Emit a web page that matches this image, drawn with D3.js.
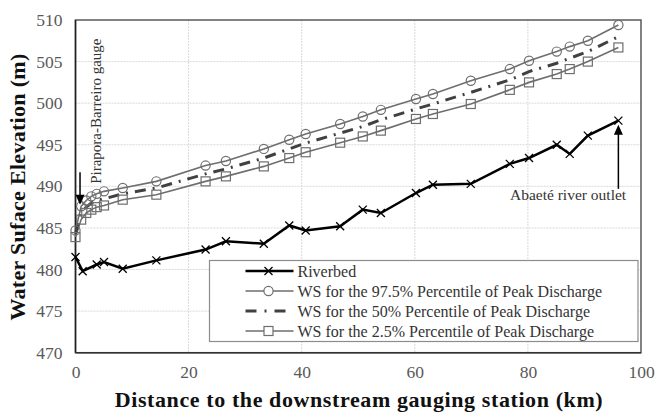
<!DOCTYPE html>
<html>
<head>
<meta charset="utf-8">
<script src="https://cdn.jsdelivr.net/npm/d3@7"></script>
<style>
  body { margin: 0; background: #fff; }
</style>
</head>
<body>
<svg width="657" height="412"></svg>
<script>
// riverbed profile
const bedKm = [0, 1.27, 3.75, 5.04, 8.35, 14.3, 23.0, 26.6, 33.3, 37.8, 40.7, 46.8, 50.8, 54.0, 60.2, 63.2, 69.9, 76.8, 80.2, 85.1, 87.4, 90.6, 96.0];
const bedElev = [481.5, 479.8, 480.6, 480.9, 480.1, 481.1, 482.4, 483.4, 483.1, 485.3, 484.7, 485.2, 487.2, 486.8, 489.2, 490.2, 490.3, 492.7, 493.4, 495.0, 493.9, 496.1, 497.9];

// water surface profiles
const wsKm = [0, 1.0, 1.9, 2.8, 3.75, 5.04, 8.35, 14.3, 23.0, 26.6, 33.3, 37.8, 40.7, 46.8, 50.8, 54.0, 60.2, 63.2, 69.9, 76.8, 80.2, 85.1, 87.4, 90.6, 96.0];
const ws975 = [484.7, 487.6, 488.3, 488.8, 489.1, 489.4, 489.8, 490.6, 492.5, 493.05, 494.5, 495.6, 496.3, 497.5, 498.4, 499.2, 500.5, 501.1, 502.7, 504.1, 505.1, 506.2, 506.8, 507.5, 509.4];
const ws50 = [484.3, 486.8, 487.5, 488.0, 488.3, 488.5, 489.1, 489.8, 491.5, 492.1, 493.4, 494.5, 495.2, 496.4, 497.2, 498.0, 499.3, 499.9, 501.3, 502.8, 503.8, 504.8, 505.4, 506.2, 508.0];
const ws25 = [483.9, 486.0, 486.8, 487.2, 487.5, 487.7, 488.4, 489.0, 490.6, 491.2, 492.4, 493.4, 494.1, 495.25, 496.0, 496.7, 498.1, 498.7, 499.9, 501.6, 502.5, 503.5, 504.1, 505.0, 506.7];

const xTicks = [0, 20, 40, 60, 80, 100];
const yTicks = [470, 475, 480, 485, 490, 495, 500, 505, 510];

const legendLabels = [
  'Riverbed',
  'WS for the 97.5% Percentile of Peak Discharge',
  'WS for the 50% Percentile of Peak Discharge',
  'WS for the 2.5% Percentile of Peak Discharge'
];

const serif = "'Liberation Serif', 'Times New Roman', 'DejaVu Serif', serif";

const svg = d3.select('svg').attr('font-family', serif);
const margin = { top: 20, right: 16, bottom: 59.3, left: 75.5 };
const width = 657, height = 412;
const innerWidth = width - margin.left - margin.right;
const innerHeight = height - margin.top - margin.bottom;

const xScale = d3.scaleLinear().domain([0, 100]).range([0, innerWidth]);
const yScale = d3.scaleLinear().domain([470, 510]).range([innerHeight, 0]);

const g = svg.append('g')
  .attr('transform', `translate(${margin.left},${margin.top})`);

// grid
g.selectAll('.vgrid').data(xTicks.slice(1, -1)).enter().append('line')
  .attr('x1', d => xScale(d)).attr('x2', d => xScale(d))
  .attr('y1', 0).attr('y2', innerHeight)
  .attr('stroke', '#d9d9d9').attr('stroke-dasharray', '2,1');
g.selectAll('.hgrid').data(yTicks.slice(1, -1)).enter().append('line')
  .attr('y1', d => yScale(d)).attr('y2', d => yScale(d))
  .attr('x1', 0).attr('x2', innerWidth)
  .attr('stroke', '#d9d9d9').attr('stroke-dasharray', '2,1');

// axes
const styleTicks = sel => {
  sel.attr('font-family', serif).attr('font-size', 17.5);
  sel.select('.domain').remove();
  sel.selectAll('.tick text').attr('fill', '#595959');
};
g.append('g')
  .call(d3.axisLeft(yScale).tickValues(yTicks).tickSize(0).tickPadding(13))
  .call(styleTicks);
g.append('g').attr('transform', `translate(0,${innerHeight})`)
  .call(d3.axisBottom(xScale).tickValues(xTicks).tickSize(0).tickPadding(13))
  .call(styleTicks);

// plot frame
g.append('rect')
  .attr('width', innerWidth).attr('height', innerHeight)
  .attr('fill', 'none').attr('stroke', '#595959').attr('stroke-width', 1.5);
g.append('line').attr('x1', 0).attr('x2', 0).attr('y1', 0).attr('y2', innerHeight)
  .attr('stroke', '#222').attr('stroke-width', 1.5);
g.append('line').attr('x1', 0).attr('x2', innerWidth).attr('y1', innerHeight).attr('y2', innerHeight)
  .attr('stroke', '#333').attr('stroke-width', 1.5);

const lineGen = (xs) => d3.line()
  .x((d, i) => xScale(xs[i]))
  .y(d => yScale(d));

const grey = '#6e6e6e';

// WS lines
g.append('path').attr('d', lineGen(wsKm)(ws975))
  .attr('fill', 'none').attr('stroke', grey).attr('stroke-width', 1.6);
g.append('path').attr('d', lineGen(wsKm)(ws25))
  .attr('fill', 'none').attr('stroke', grey).attr('stroke-width', 1.6);
g.append('path').attr('d', lineGen(wsKm)(ws50))
  .attr('fill', 'none').attr('stroke', '#404040').attr('stroke-width', 3)
  .attr('stroke-dasharray', '11,7,2,7');

g.selectAll('.c975').data(ws975).enter().append('circle')
  .attr('cx', (d, i) => xScale(wsKm[i])).attr('cy', d => yScale(d))
  .attr('r', 4.6).attr('fill', 'none').attr('stroke', grey).attr('stroke-width', 1.2);
g.selectAll('.s25').data(ws25).enter().append('rect')
  .attr('x', (d, i) => xScale(wsKm[i]) - 4.5).attr('y', d => yScale(d) - 4.5)
  .attr('width', 9).attr('height', 9)
  .attr('fill', 'none').attr('stroke', grey).attr('stroke-width', 1.2);

// riverbed
g.append('path').attr('d', lineGen(bedKm)(bedElev))
  .attr('fill', 'none').attr('stroke', '#000').attr('stroke-width', 2.5);
const xMark = 'M-4,-4L4,4M-4,4L4,-4';
g.selectAll('.xm').data(bedElev).enter().append('path')
  .attr('transform', (d, i) => `translate(${xScale(bedKm[i])},${yScale(d)})`)
  .attr('d', xMark).attr('stroke', '#000').attr('stroke-width', 1.3);

// annotations
const arrow = (x, y1, y2) => {
  const dir = y2 > y1 ? 1 : -1;
  g.append('line').attr('x1', x).attr('x2', x).attr('y1', y1).attr('y2', y2 - dir * 8)
    .attr('stroke', '#000').attr('stroke-width', 1.5);
  g.append('path')
    .attr('d', `M${x - 4.5},${y2 - dir * 10}L${x + 4.5},${y2 - dir * 10}L${x},${y2}Z`)
    .attr('fill', '#000');
};
arrow(xScale(0.8), yScale(491.7), yScale(487.8));
arrow(xScale(96.0), yScale(489.7), yScale(497.4));

g.append('text')
  .attr('transform', `translate(${xScale(4.5)},${yScale(490.3)}) rotate(-90)`)
  .attr('font-size', 15).attr('fill', '#333')
  .text('Pirapora-Barreiro  gauge');
g.append('text')
  .attr('x', xScale(87.1)).attr('y', yScale(488.3))
  .attr('text-anchor', 'middle').attr('font-size', 15.5).attr('fill', '#333')
  .text('Abaeté river outlet');

// legend
const lg = svg.append('g').attr('transform', 'translate(209.5,260.5)');
lg.append('rect').attr('width', 428.5).attr('height', 81)
  .attr('fill', '#fff').attr('stroke', '#8c8c8c').attr('stroke-width', 1.2);
const rowY = i => 10.5 + i * 20;
const sx1 = 36, sx2 = 84, mx = 59;
lg.append('line').attr('x1', sx1).attr('x2', sx2).attr('y1', rowY(0)).attr('y2', rowY(0))
  .attr('stroke', '#000').attr('stroke-width', 2.5);
lg.append('path').attr('transform', `translate(${mx},${rowY(0)})`).attr('d', xMark)
  .attr('stroke', '#000').attr('stroke-width', 1.3);
lg.append('line').attr('x1', sx1).attr('x2', sx2).attr('y1', rowY(1)).attr('y2', rowY(1))
  .attr('stroke', grey).attr('stroke-width', 1.6);
lg.append('circle').attr('cx', mx).attr('cy', rowY(1)).attr('r', 4.6)
  .attr('fill', '#fff').attr('stroke', grey).attr('stroke-width', 1.2);
lg.append('line').attr('x1', sx1).attr('x2', sx2).attr('y1', rowY(2)).attr('y2', rowY(2))
  .attr('stroke', '#404040').attr('stroke-width', 3).attr('stroke-dasharray', '11,8,2,8');
lg.append('line').attr('x1', sx1).attr('x2', sx2).attr('y1', rowY(3)).attr('y2', rowY(3))
  .attr('stroke', grey).attr('stroke-width', 1.6);
lg.append('rect').attr('x', mx - 4.5).attr('y', rowY(3) - 4.5).attr('width', 9).attr('height', 9)
  .attr('fill', '#fff').attr('stroke', grey).attr('stroke-width', 1.2);
lg.selectAll('.lt').data(legendLabels).enter().append('text')
  .attr('x', 88).attr('y', (d, i) => rowY(i) + 5.5)
  .attr('font-size', 16).attr('fill', '#333')
  .text(d => d);

// axis titles
svg.append('text')
  .attr('transform', 'translate(25,187) rotate(-90)')
  .attr('text-anchor', 'middle').attr('font-size', 22).attr('font-weight', 'bold')
  .attr('letter-spacing', 0.3).attr('fill', '#111')
  .text('Water Suface Elevation (m)');
svg.append('text')
  .attr('x', 359).attr('y', 407)
  .attr('text-anchor', 'middle').attr('font-size', 22).attr('font-weight', 'bold')
  .attr('letter-spacing', 0.6).attr('fill', '#111')
  .text('Distance to the downstream gauging station (km)');
</script>
</body>
</html>
